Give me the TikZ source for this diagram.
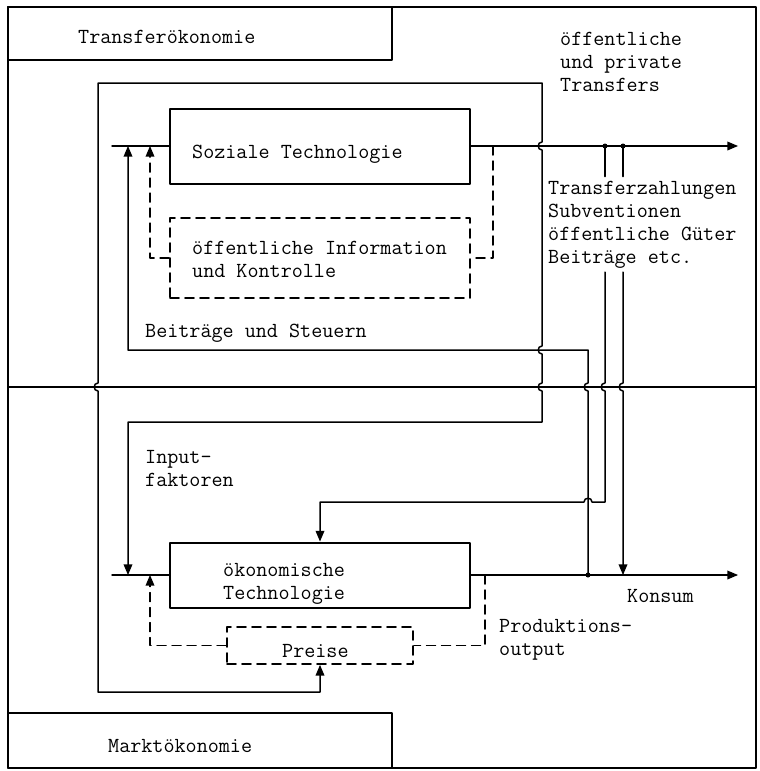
\documentclass[tikz,border=0pt]{standalone}
\usepackage{tikz}
\usetikzlibrary{arrows}
% hops where one line jumps over another
\newcommand{\hopdn}[2]{-- (#1,#2-4) .. controls (#1-5,#2-4) and (#1-5,#2+4) .. (#1,#2+4)}
\newcommand{\hopup}[2]{-- (#1,#2+4) .. controls (#1-5,#2+4) and (#1-5,#2-4) .. (#1,#2-4)}
\newcommand{\hopleft}[2]{-- (#1+4,#2) .. controls (#1+4,#2-5) and (#1-4,#2-5) .. (#1-4,#2)}
\tikzstyle{every node}=[font=\ttfamily\fontsize{21.5}{23}\selectfont]

\begin{document}
\begin{tikzpicture}[line cap=round,line join=round,>=triangle 45,x=1pt,y=-1pt,
    box/.style={draw,line width=2pt,inner sep=0pt},
    dbox/.style={draw,line width=1.8pt,dash pattern=on 9pt off 6pt,inner sep=0pt},
    flow/.style={line width=1.5pt},
    dflow/.style={line width=1.5pt,dash pattern=on 9pt off 6pt},
    txt/.style={anchor=base west,inner sep=0pt,align=left}]
\useasboundingbox (0,0) rectangle (760,771);
% frame
\draw[line width=2pt] (8,7) rectangle (756,768);
\draw[line width=2pt] (8,387) -- (756,387);
\node[box,minimum width=384pt,minimum height=53pt] (transferbox) at (200,33.5) {};
\node[box,minimum width=384pt,minimum height=55pt] (marktbox) at (200,740.5) {};
% blocks
\node[box,minimum width=300pt,minimum height=75pt] (soztech) at (320,146) {};
\node[dbox,minimum width=300pt,minimum height=80pt] (info) at (320,258) {};
\node[box,minimum width=300pt,minimum height=65pt] (oektech) at (320,575) {};
\node[dbox,minimum width=186pt,minimum height=37pt] (preise) at (320,645.5) {};
% texts (multi-line: base = last line)
\node[txt] (transferlbl) at (78,43) {Transferökonomie};
\node[txt] (marktlbl) at (108,752) {Marktökonomie};
\node[txt] (soztechlbl) at (192,158) {Soziale Technologie};
\node[txt] (infolbl) at (192,277) {öffentliche Information\\und Kontrolle};
\node[txt] (oektechlbl) at (223,599) {ökonomische\\Technologie};
\node[txt] (preiselbl) at (282,657) {Preise};
\node[txt] (transfers) at (560,91) {öffentliche\\und private\\Transfers};
\node[txt] (trz) at (548,263) {Transferzahlungen\\Subventionen\\öffentliche Güter\\Beiträge etc.};
\node[txt] (steuern) at (145,337) {Beiträge und Steuern};
\node[txt] (inputlbl) at (145,486) {Input-\\faktoren};
\node[txt] (konsum) at (627,602) {Konsum};
\node[txt] (outputlbl) at (499,655) {Produktions-\\output};
% junctions
\coordinate (sin) at (128,146);
\coordinate (sdin) at (150,146);
\coordinate (sdout) at (493,146);
\coordinate (oin) at (128,575);
\coordinate (odin) at (150,575);
\coordinate (odout) at (485,575);
\coordinate (tz1) at (605,146);
\coordinate (tz2) at (623,146);
\coordinate (kdot) at (588,575);
% inputs and outputs
\draw[flow] (112,146) -- (soztech.west);
\draw[flow] (112,575) -- (oektech.west);
\draw[flow,->] (soztech.east) -- (738,146);
\draw[flow,->] (oektech.east) -- (738,575);
% feedback loops
\draw[dflow] (sdout) |- (info.east);
\draw[dflow,->] (info.west) -| (sdin);
\draw[dflow] (odout) |- (preise.east);
\draw[dflow,->] (preise.west) -| (odin);
% Inputfaktoren und Preise
\draw[flow,<->] (preise.south) -- (320,692) -- (98,692) \hopup{98}{387} -- (98,83) -- (542,83)
  \hopdn{542}{146} \hopdn{542}{350} \hopdn{542}{387} -- (542,422) -- (128,422) -- (oin);
% Beitraege und Steuern
\draw[flow,->] (kdot) \hopup{588}{387} -- (588,350) -- (128,350) -- (sin);
% Transfers
\draw[flow] (tz1) -- ([yshift=4pt]tz1 |- trz.north);
\draw[flow,->] ([yshift=-4pt]tz1 |- trz.south) \hopdn{605}{387} -- (605,502) \hopleft{588}{502} -- (320,502) -- (oektech.north);
\draw[flow] (tz2) -- ([yshift=4pt]tz2 |- trz.north);
\draw[flow,->] ([yshift=-4pt]tz2 |- trz.south) \hopdn{623}{387} -- (623,575);
\fill (tz1) circle (2.5pt);
\fill (tz2) circle (2.5pt);
\fill (kdot) circle (2.5pt);
\end{tikzpicture}
\end{document}
